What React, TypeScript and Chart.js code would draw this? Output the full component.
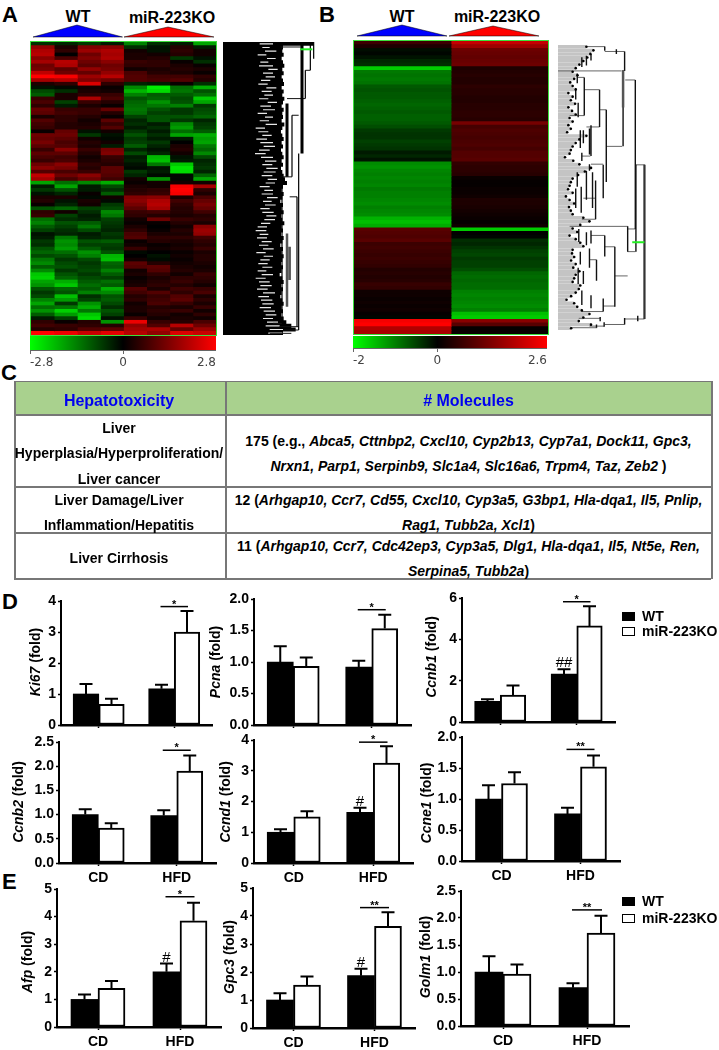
import React, { useEffect, useRef } from "react";
import { Chart, registerables } from "chart.js";
Chart.register(...registerables);

const FONT = "'Liberation Sans', Arial, sans-serif";

// ---------- Heatmap A (rows × 8 samples: 4 WT, 4 miR-223KO) ----------
const heatARows: number[][] = [
[-.5,-.4,-.6,-.3,-1.4,-.5,-.3,-1.8],[1.6,.3,1.4,1.5,-.5,-.2,.4,-.3],[1.9,.5,1.7,1.9,.2,-.2,.5,.2],[2.0,.0,1.2,1.8,.3,.2,.4,.2],
[1.5,.8,1.4,1.9,.3,.4,-.6,-.2],[1.8,2.0,1.2,1.5,.6,.5,.1,-.5],[1.2,1.9,1.0,1.2,.5,.5,.3,.1],[1.3,1.0,1.6,1.3,.2,.3,.4,.3],
[2.1,1.2,1.1,1.6,.8,.4,.3,.1],[2.8,2.7,1.7,2.0,.9,.7,.7,.5],[1.8,2.0,1.4,1.2,.9,.8,.9,.4],[.3,.5,2.4,.5,-.4,-.3,.1,-.5],
[-.2,-.1,.2,.1,-1.5,-2.6,-1.2,-1.9],[-.8,-.5,.3,.2,-2,-2.4,-1.3,-.9],[-1,.3,.5,.6,-1.4,-1,-1,-1.2],[.6,.3,1.9,.8,-.9,-1.1,-.8,-2.2],
[.8,-.7,.6,.4,-1.1,-1.6,-.9,-1.8],[.5,-.3,.3,.1,-1.2,-1.3,-1.4,-.6],[1.1,.6,.6,1.1,-1.3,-.9,-.6,-.8],[1.0,.7,.6,.4,-1.2,-.7,-.6,-.9],
[.3,.5,.4,.1,-.7,-.9,-.9,-1.1],[.9,.5,.2,1.0,-.4,-.9,-.6,-.4],[.7,.4,.3,.6,-.5,-.3,-1.5,-.6],[.6,.4,.4,.9,-.3,-.5,-1.7,-.7],
[.1,1.1,-.2,.2,-.6,-.3,-1.2,-1.0],[1.2,1.2,-.6,-.2,-.9,-.5,-1.8,-1.9],[1.1,1.0,.2,-.1,-.6,-.3,-.3,-1.7],[1.3,.8,.4,.2,-.7,-.6,.0,-1.8],
[1.0,.9,.3,-.3,-1.0,-.4,.3,-1.3],[.6,1.5,.6,1.3,-.4,-.2,.4,-1.1],[1.0,1.0,.4,1.4,-.8,-.4,.2,-1.5],[.8,.7,.2,.6,-.3,-2.0,-.2,-.8],
[.6,.8,.3,.5,-.4,-2.1,-.3,-.4],[1.2,1.5,.5,.4,-.2,-1.3,-2.2,-.5],[1.5,1.3,.4,1.0,-.1,-.2,-2.5,-.6],[.9,.8,.6,1.0,-.6,-.3,-2.4,-.4],
[2.1,1.2,1.5,.9,-.4,-.1,-.1,-1.1],[1.8,.8,1.2,.7,.2,-1.6,-.1,-1.8],[-1.8,-1.2,-1.5,-1.9,.1,.2,.2,.2],[-.3,-1.8,-.3,-.8,.3,.2,2.7,1.8],
[-.6,-.9,-.3,-.5,.4,.5,2.8,.5],[-.2,-.4,.1,-1.0,.5,.6,2.7,.3],[.3,.3,-.1,.2,1.4,1.5,.3,.8],[.4,-.2,.3,-.1,1.5,1.9,.7,1.1],
[.1,-.4,.2,-.6,1.3,2.0,.5,1.3],[-.9,-1.1,-.7,-.8,1.0,1.8,.4,1.1],[.5,.2,-.5,-1.5,.6,.7,.4,.7],[.6,-.7,-.3,-1.3,.5,.4,.3,.4],
[-1.2,-.5,-.4,-.7,.2,1.2,.6,.5],[-1.4,-.9,-1,-.6,.1,.1,.4,.3],[-1.0,-.7,-1.3,-.5,.3,.0,.2,1.5],[-.7,-.5,-.8,-.4,.5,.1,.4,1.7],
[-.2,-.4,-.3,-.6,.8,.3,.3,1.6],[-.3,-1.3,-.4,-.5,.9,.5,.5,.7],[-.6,-1.6,-.9,-1,.1,.4,.3,.5],[-.5,-1.5,-.7,-.7,.2,.1,.2,.4],
[-.9,-1.7,-1.0,-.6,.6,.2,.3,.6],[-1.1,-1.2,-1.6,-.9,-.1,.0,.1,.3],[-.8,-.9,-1.4,-2,.0,-.2,.2,.4],[-1.3,-.6,-.8,-2.1,.2,-.1,.1,.4],
[-1.5,-.8,-.6,-1.1,1.0,.4,.2,.3],[-1.0,-.9,-.7,-1.0,.9,1.0,.3,.2],[-1.5,-.6,-.8,-1.4,.2,.9,.4,.3],[-2.2,-.9,-.6,-1.0,.3,.5,.2,.6],
[-2.3,-1.1,-.8,-.7,.1,.3,.5,.5],[-1.8,-1.9,-1.0,-1.2,.2,.4,.6,.4],[-1.6,-2.2,-1.2,-1.0,.3,.5,.4,.2],[-.9,-1.1,-1.0,-1.9,.9,.3,.7,.6],
[-.6,-.9,-1.4,-1.5,.7,.9,.5,.8],[-.8,-2.1,-.5,-.9,.4,.6,.9,.3],[-1.4,-1.7,-.7,-1.0,.5,.7,1.0,.5],[-1.8,-.6,-1.6,-.8,.2,.8,.6,.3],
[-1.2,-1.3,-1.9,-.5,.3,.4,.3,.6],[-1.6,-2.3,-1.3,-.9,.3,.5,.6,.2],[-1.0,-1.7,-2.2,-.7,.1,.4,.2,.5],[-.3,-.7,-2.4,-.2,.6,.2,.3,.2],
[.5,.1,.4,-1.6,2.6,.6,.4,.8],[.7,.6,.5,.4,1.6,.9,2.0,1.2],[.4,.5,.9,1.0,1.8,1.9,1.1,1.7],[2.8,2.6,2.2,2.5,2.0,1.6,2.4,2.2],
];

// ---------- Heatmap B (rows × 2 groups) ----------
const heatBWT = [.6,.3,-.1,-.05,-.15,-.3,-.35,-1.6,-.95,-.9,-.95,-.9,-.7,-.65,-.7,-.7,-.75,-.8,-.75,-.7,-.75,-.75,-.7,-.6,-.45,-.4,-.4,-.5,-.45,-.4,-.2,-.3,-.15,-1.1,-1.15,-1.05,-1.0,-1.05,-1.0,-1.05,-.95,-1.0,-1.0,-1.05,-1.1,-1.0,-1.05,-1.1,-1.4,-1.5,-1.35,.9,.85,.8,.9,.6,.65,.6,.55,.6,.55,.5,.35,.4,.35,.4,.55,.5,.15,.15,.1,.15,.1,.15,.05,-.05,2.5,2.6,1.8,1.7];
const heatBKO = [2.0,1.6,1.1,1.05,1.0,1.05,1.1,.3,.35,.4,.35,.35,.45,.4,.4,.35,.35,.4,.4,.45,.45,.4,1.2,.7,.8,.75,.7,.75,.8,.7,.85,.85,.9,.5,.45,.45,.4,.1,.05,.05,.1,.1,.15,.3,.3,.25,.2,.15,.1,.05,.15,-1.6,.02,-.05,-.35,-.3,-.4,-.5,-.55,-.45,-.5,-.5,-.6,-.8,-.85,-.8,-.85,-.85,-1.0,-1.05,-1.0,-1.05,-1.1,-1.0,-1.5,-1.6,1.4,.9,.05,.1];

// ---------- Dendrogram A (distance units, row units) ----------
const dendAEnds = [272,180,178,182,176,180,184,178,182,176,180,183,176,182,178,184,180,176,182,178,180,176,184,178,172,178,182,176,180,174,178,182,176,180,174,178,182,186,192,180,176,182,178,172,180,176,182,174,178,184,176,180,174,182,178,172,180,176,182,178,174,180,176,170,178,182,174,180,176,172,178,182,176,180,174,182,190,205,218,180];
const dendASpikeStart = [110,118,126,104,132,112,108,136,120,128,114,106,130,116,124,108,134,112,120,104,126,110,128,98,106,118,100,112,122,108,96,114,126,118,130,122,116,134,128,110,124,116,132,120,126,112,118,130,124,114,104,98,110,102,116,108,120,100,122,112,106,118,104,116,98,108,112,102,120,106,114,118,110,122,128,120,132,128,140,136];
const dendASpikeEnd = [150,140,160,130,158,136,150,164,150,156,142,134,160,146,150,136,162,144,156,132,150,138,162,126,136,146,132,150,156,140,128,150,160,148,164,158,148,162,156,140,150,150,164,146,158,140,152,160,156,142,132,130,136,132,146,136,152,128,150,140,134,148,130,150,128,140,146,134,156,138,148,152,144,156,160,150,165,170,180,178];
const dendAThick = [[237,0,335],[192,185,405]];
const dendAThin = [[272,0,50],[262,0,85],[247,85,170],[227,335,865],[207,220,405],[222,465,855],[177,405,845],[172,15,405]];
const dendAGrey = [[192,575,795],[200,615,715]];
const dendAHoriz = [[15,172,237],[85,247,262],[170,192,247],[220,207,227],[405,172,207],[465,200,222],[855,170,227],[865,180,227],[845,150,177],[875,140,205]];
const dendAGreen = [[22,232,268]];

// ---------- Dendrogram B ----------
const dendBEnds = [735,758,748,738,725,712,700,690,706,695,682,690,700,676,690,684,698,676,688,700,680,690,676,684,672,735,712,700,690,684,680,665,692,712,750,730,708,690,684,680,675,690,668,680,695,678,684,690,725,745,715,690,705,680,700,715,725,690,688,695,685,700,692,712,700,695,690,715,710,700,685,670,695,705,720,745,725,710,750,685];
const dendBVert = [[795,127,140],[833,135,150],[860,142,202],[855,200,435],[895,230,690],[800,322,545],[778,260,375],[728,222,340],[750,370,465],[790,492,595],[765,540,660],[755,515,625],[870,682,760],[828,745,930],[795,710,775],[750,695,735],[735,700,740],[768,785,850],[745,750,810],[790,905,945],[750,895,935],[925,492,968],[897,492,760],[903,958,975],[860,965,985],[780,962,975],[793,978,992],[768,985,995],[705,210,240],[700,255,290],[708,300,345],[715,385,440],[725,385,425],[745,380,460],[720,455,480],[745,490,510],[705,515,560],[700,565,625],[718,560,640],[735,510,600],[710,690,730],[715,760,800],[708,810,860],[725,820,860],[720,880,925],[735,155,185],[720,160,190],[750,150,170]];
const dendBHoriz = [[127,735,795],[142,795,860],[202,642,850],[230,862,895],[690,870,895],[435,800,852],[322,778,800],[260,728,778],[222,705,728],[375,735,778],[465,720,748],[490,750,790],[595,725,765],[682,680,870],[760,870,895],[835,828,870],[745,795,828],[710,750,795],[785,745,768],[928,790,828],[492,897,925],[968,860,925],[985,795,860],[966,710,780],[990,745,793],[995,685,770],[340,680,728],[660,720,765],[945,720,790]];
const dendBGreen = [[731,885,925]];

// ---------- Bar data: order CD-WT, CD-KO, HFD-WT, HFD-KO ----------
const dietLabels = ["CD", "HFD"];
const ki67Means = [1, 0.67, 1.17, 3.0];
const ki67Tops = [1.32, 0.85, 1.3, 3.68];
const pcnaMeans = [1, 0.93, 0.92, 1.53];
const pcnaTops = [1.25, 1.07, 1.02, 1.75];
const ccnb1Means = [1, 1.3, 2.32, 4.65];
const ccnb1Tops = [1.1, 1.77, 2.55, 5.6];
const ccnb2Means = [1, 0.72, 0.98, 1.9];
const ccnb2Tops = [1.11, 0.82, 1.09, 2.22];
const ccnd1Means = [1, 1.5, 1.65, 3.25];
const ccnd1Tops = [1.1, 1.68, 1.8, 3.8];
const ccne1Means = [1, 1.25, 0.76, 1.52];
const ccne1Tops = [1.22, 1.43, 0.86, 1.7];
const afpMeans = [1, 1.4, 2, 3.85];
const afpTops = [1.18, 1.67, 2.3, 4.5];
const gpc3Means = [1, 1.53, 1.87, 3.63];
const gpc3Tops = [1.24, 1.84, 2.12, 4.13];
const golm1Means = [1, 0.96, 0.71, 1.72];
const golm1Tops = [1.29, 1.14, 0.79, 2.04];

const panels = [
  { gene: "Ki67", means: ki67Means, tops: ki67Tops, max: 4, step: 1, dec: 0, sig: 3.82, stars: "*", hash: "", x0: 61, x1: 212, y0: 601, y1: 725, bw: 25.5, tx: 36, ty: 662, labels: false },
  { gene: "Pcna", means: pcnaMeans, tops: pcnaTops, max: 2, step: 0.5, dec: 1, sig: 1.83, stars: "*", hash: "", x0: 254, x1: 411, y0: 599, y1: 725, bw: 26, tx: 216, ty: 662, labels: false },
  { gene: "Ccnb1", means: ccnb1Means, tops: ccnb1Tops, max: 6, step: 2, dec: 0, sig: 5.82, stars: "*", hash: "##", x0: 462, x1: 615, y0: 598, y1: 722, bw: 25.5, tx: 432, ty: 657, labels: false },
  { gene: "Ccnb2", means: ccnb2Means, tops: ccnb2Tops, max: 2.5, step: 0.5, dec: 1, sig: 2.33, stars: "*", hash: "", x0: 59, x1: 216, y0: 742, y1: 863, bw: 26, tx: 19, ty: 802, labels: true },
  { gene: "Ccnd1", means: ccnd1Means, tops: ccnd1Tops, max: 4, step: 1, dec: 0, sig: 3.93, stars: "*", hash: "#", x0: 254, x1: 413, y0: 740, y1: 863, bw: 26.5, tx: 226, ty: 802, labels: true },
  { gene: "Ccne1", means: ccne1Means, tops: ccne1Tops, max: 2, step: 0.5, dec: 1, sig: 1.8, stars: "**", hash: "", x0: 462, x1: 620, y0: 737, y1: 861, bw: 26, tx: 427, ty: 803, labels: true },
  { gene: "Afp", means: afpMeans, tops: afpTops, max: 5, step: 1, dec: 0, sig: 4.72, stars: "*", hash: "#", x0: 57, x1: 221, y0: 889, y1: 1027, bw: 27, tx: 28, ty: 962, labels: true },
  { gene: "Gpc3", means: gpc3Means, tops: gpc3Tops, max: 5, step: 1, dec: 0, sig: 4.3, stars: "**", hash: "#", x0: 253, x1: 415, y0: 888, y1: 1028, bw: 27, tx: 230, ty: 957, labels: true },
  { gene: "Golm1", means: golm1Means, tops: golm1Tops, max: 2.5, step: 0.5, dec: 1, sig: 2.15, stars: "**", hash: "", x0: 461, x1: 629, y0: 891, y1: 1026, bw: 28, tx: 426, ty: 957, labels: true },
];

function heatColor(v: number, lo: number, hi: number) {
  if (v >= 0) return `rgb(${Math.round(255 * Math.min(1, v / hi))},0,0)`;
  return `rgb(0,${Math.round(255 * Math.min(1, v / lo))},0)`;
}

function zeroPad(scale: any) {
  scale.paddingLeft = 0; scale.paddingRight = 0; scale.paddingTop = 0; scale.paddingBottom = 0;
}

function ChartCanvas({ left, top, width, height, make, style }: any) {
  const ref = useRef<HTMLCanvasElement | null>(null);
  useEffect(() => {
    const chart = new Chart(ref.current as HTMLCanvasElement, make());
    return () => chart.destroy();
  }, []);
  return <canvas ref={ref} width={width} height={height} style={{ position: "absolute", left, top, width, height, ...style }} />;
}

function heatConfig(columns: number[][], lo: number, hi: number): any {
  const rowLabels = columns[0].map((_, i) => String(i + 1));
  return {
    type: "bar",
    data: {
      labels: rowLabels,
      datasets: columns.map((col) => ({
        data: col.map(() => 1),
        backgroundColor: col.map((v) => heatColor(v, lo, hi)),
        borderWidth: 0,
        barPercentage: 1,
        categoryPercentage: 1,
        inflateAmount: 0.4,
      })),
    },
    options: {
      indexAxis: "y", responsive: false, animation: false, devicePixelRatio: 1,
      layout: { padding: 0 },
      plugins: { legend: { display: false }, tooltip: { enabled: false } },
      scales: {
        x: { display: false, stacked: true, min: 0, max: columns.length },
        y: { display: false, stacked: true },
      },
    },
  };
}

function colorbarConfig(lo: number, hi: number, axisH: number): any {
  return {
    type: "bar",
    data: {
      labels: ["scale"],
      datasets: [{
        data: [[lo, hi]],
        barPercentage: 1, categoryPercentage: 1, borderWidth: 0,
        backgroundColor: (ctx: any) => {
          const a = ctx.chart.chartArea;
          if (!a) return "#000";
          const g = ctx.chart.ctx.createLinearGradient(a.left, 0, a.right, 0);
          g.addColorStop(0, "#00ff00");
          g.addColorStop(-lo / (hi - lo), "#000000");
          g.addColorStop(1, "#ff0000");
          return g;
        },
      }],
    },
    options: {
      indexAxis: "y", responsive: false, animation: false, devicePixelRatio: 1,
      layout: { padding: 0 },
      plugins: { legend: { display: false }, tooltip: { enabled: false } },
      scales: {
        y: { display: false },
        x: {
          type: "linear", min: lo, max: hi,
          afterBuildTicks: (s: any) => { s.ticks = [{ value: lo }, { value: 0 }, { value: hi }]; },
          afterFit: (s: any) => { s.height = axisH; zeroPad(s); },
          border: { display: true, color: "#666", width: 1 },
          grid: { drawOnChartArea: false, tickLength: 4, color: "#666" },
          ticks: { align: "inner", maxRotation: 0, padding: 2, color: "#444", font: { family: "'DejaVu Sans'", size: 12 }, callback: (v: any) => String(v) },
        },
      },
    },
  };
}

function segs(list: number[][], vertical: boolean) {
  const pts: any[] = [];
  list.forEach(([a, b, c]) => {
    if (vertical) pts.push({ x: a, y: b }, { x: a, y: c });
    else pts.push({ x: b, y: a }, { x: c, y: a });
    pts.push({ x: NaN, y: NaN });
  });
  return pts;
}

function lineSet(data: any[], color: string, width: number, extra: any = {}) {
  return { type: "scatter", data, showLine: true, borderColor: color, borderWidth: width, pointRadius: 0, spanGaps: false, borderCapStyle: "butt", ...extra };
}

function dendroOptions(xmin: number, xmax: number, ymin: number, ymax: number): any {
  return {
    responsive: false, animation: false, devicePixelRatio: 1,
    layout: { padding: 0 },
    plugins: { legend: { display: false }, tooltip: { enabled: false } },
    scales: {
      x: { type: "linear", display: false, min: xmin, max: xmax },
      y: { type: "linear", display: false, min: ymin, max: ymax, reverse: true },
    },
  };
}

function dendroAConfig(): any {
  const rowY = (i: number) => (i + 0.5) * 11;
  const leaves = segs(dendAEnds.map((e, i) => [rowY(i), 0, e]), false);
  const spikes = segs(dendASpikeStart.map((s, i) => [rowY(i), s, dendASpikeEnd[i]]), false);
  return {
    type: "scatter",
    data: {
      // the first dataset is painted last
      datasets: [
        lineSet(segs(dendAGreen, false), "#22ee22", 2),
        lineSet(segs(dendAGrey, true), "#555", 2.5),
        lineSet(segs(dendAThick, true), "#000", 3),
        lineSet(segs(dendAThin, true), "#000", 1.2),
        lineSet(segs(dendAHoriz, false), "#111", 1),
        lineSet(spikes, "#e8e8e8", 1.2),
        lineSet(leaves, "#000", 4),
      ],
    },
    options: dendroOptions(0, 282, 0, 880),
  };
}

function dendroBConfig(): any {
  const rowY = (i: number) => 122 + (i + 0.5) * 11;
  const leaves = segs(dendBEnds.map((e, i) => [rowY(i), 642, e]), false);
  const dots = dendBEnds.map((e, i) => ({ x: e, y: rowY(i) }));
  return {
    type: "scatter",
    data: {
      // the first dataset is painted last
      datasets: [
        { type: "scatter", data: dots, showLine: false, pointRadius: 1.3, backgroundColor: "#000", borderWidth: 0 },
        lineSet(segs(dendBGreen, false), "#22ee22", 2),
        lineSet(segs([[925, 492, 968]], true), "#333", 2),
        lineSet(segs([[855, 200, 315]], true), "#555", 2.5),
        lineSet(segs(dendBVert, true), "#111", 1.4),
        lineSet(segs(dendBHoriz, false), "#666", 1),
        lineSet(leaves, "#c4c4c4", 3.4),
      ],
    },
    options: dendroOptions(642, 930, 122, 1002),
  };
}

function barConfig(p: any, left: number, top: number, right: number, bottom: number): any {
  const annot = {
    id: "annot",
    afterDatasetsDraw(chart: any) {
      const c = chart.ctx;
      const y = chart.scales.y;
      const m0 = chart.getDatasetMeta(0).data;
      const m1 = chart.getDatasetMeta(1).data;
      const xs = [m0[0].x, m1[0].x, m0[1].x, m1[1].x];
      c.save();
      c.strokeStyle = "#000";
      c.fillStyle = "#000";
      c.lineWidth = 2;
      xs.forEach((x: number, i: number) => {
        const a = y.getPixelForValue(p.means[i]);
        const b = y.getPixelForValue(p.tops[i]);
        c.beginPath();
        c.moveTo(x, a); c.lineTo(x, b);
        c.moveTo(x - 6.5, b); c.lineTo(x + 6.5, b);
        c.stroke();
      });
      const sy = y.getPixelForValue(p.sig);
      c.lineWidth = 1.5;
      c.beginPath(); c.moveTo(xs[2] - 1, sy); c.lineTo(xs[3] + 1, sy); c.stroke();
      c.textAlign = "center";
      c.textBaseline = "alphabetic";
      c.font = `bold 11px ${FONT}`;
      c.fillText(p.stars, (xs[2] + xs[3]) / 2, sy + 1);
      if (p.hash) {
        c.font = `15px ${FONT}`;
        c.fillText(p.hash, xs[2], y.getPixelForValue(p.tops[2]) - 2);
      }
      // y-axis title: gene in italics, unit upright
      c.translate(p.tx - left, p.ty - top);
      c.rotate(-Math.PI / 2);
      c.textBaseline = "middle";
      c.textAlign = "left";
      const it = `italic bold 14px ${FONT}`;
      const bd = `bold 14px ${FONT}`;
      c.font = it;
      const w1 = c.measureText(p.gene).width;
      c.font = bd;
      const rest = " (fold)";
      const w2 = c.measureText(rest).width;
      const sx = -(w1 + w2) / 2;
      c.font = it;
      c.fillText(p.gene, sx, 0);
      c.font = bd;
      c.fillText(rest, sx + w1, 0);
      c.restore();
    },
  };
  return {
    type: "bar",
    data: {
      labels: dietLabels,
      datasets: [
        { label: "WT", data: [p.means[0], p.means[2]], backgroundColor: "#000", borderColor: "#000", borderWidth: 0, barThickness: p.bw },
        { label: "miR-223KO", data: [p.means[1], p.means[3]], backgroundColor: "#fff", borderColor: "#000", borderWidth: 2, borderSkipped: false, barThickness: p.bw },
      ],
    },
    plugins: [annot],
    options: {
      responsive: false, animation: false, devicePixelRatio: 1,
      layout: { padding: { top: p.y0 - top, right: right - p.x1, left: 0, bottom: 0 } },
      plugins: { legend: { display: false }, tooltip: { enabled: false } },
      scales: {
        x: {
          afterFit: (s: any) => { s.height = bottom - p.y1; zeroPad(s); },
          border: { color: "#000", width: 2.5 },
          grid: { drawOnChartArea: false, offset: false, tickLength: 3, color: "#000", tickWidth: 1.5 },
          ticks: {
            maxRotation: 0, padding: 4, color: "#000",
            font: { family: FONT, size: 14, weight: "bold" },
            callback: function (this: any, v: any) { return p.labels ? this.getLabelForValue(v) : ""; },
          },
        },
        y: {
          min: 0, max: p.max,
          afterFit: (s: any) => { s.width = p.x0 - left; zeroPad(s); },
          border: { color: "#000", width: 2 },
          grid: { drawOnChartArea: false, tickLength: 3, color: "#000", tickWidth: 1.5 },
          ticks: {
            stepSize: p.step, padding: 2, color: "#000",
            font: { family: FONT, size: 14, weight: "bold" },
            callback: (v: any) => Number(v).toFixed(p.dec),
          },
        },
      },
    },
  };
}

function BarPanel({ p }: any) {
  const left = Math.max(0, p.x0 - 58);
  const top = p.y0 - 12;
  const right = p.x1 + 4;
  const bottom = p.y1 + 24;
  return (
    <ChartCanvas left={left} top={top} width={right - left} height={bottom - top}
      make={() => barConfig(p, left, top, right, bottom)} />
  );
}

function Abs({ x, y, children, style }: any) {
  return <div style={{ position: "absolute", left: x, top: y, whiteSpace: "nowrap", fontFamily: FONT, fontWeight: "bold", color: "#000", lineHeight: 1, ...style }}>{children}</div>;
}

function Centered({ cx, cy, size, color, children }: any) {
  return <div style={{ position: "absolute", left: cx, top: cy, transform: "translate(-50%,-50%)", whiteSpace: "nowrap", fontFamily: FONT, fontWeight: "bold", fontSize: size, lineHeight: 1, color: color || "#000" }}>{children}</div>;
}

function Legend({ x, y1, y2 }: any) {
  const sw = (cy: number, bg: string) => <div style={{ position: "absolute", left: x, top: cy - 4.5, width: 13, height: 9, background: bg, border: "1px solid #000", boxSizing: "border-box" }} />;
  return (
    <>
      {sw(y1, "#000")}{sw(y2, "#fff")}
      <div style={{ position: "absolute", left: x + 20, top: y1 - 7, fontFamily: FONT, fontWeight: "bold", fontSize: 14, lineHeight: "14px" }}>WT</div>
      <div style={{ position: "absolute", left: x + 20, top: y2 - 7, fontFamily: FONT, fontWeight: "bold", fontSize: 14, lineHeight: "14px", whiteSpace: "nowrap" }}>miR-223KO</div>
    </>
  );
}

function EffectTable() {
  const L = 14, R = 711, M = 225;
  const hl = (y: number, h = 1.5) => <div style={{ position: "absolute", left: L, top: y, width: R - L, height: h, background: "#777" }} />;
  const vl = (x: number) => <div style={{ position: "absolute", left: x, top: 381, width: 1.5, height: 198, background: "#777" }} />;
  const c1 = 119, c2 = 468.5;
  return (
    <>
      <div style={{ position: "absolute", left: L, top: 381, width: R - L, height: 33, background: "#A9D18E" }} />
      {hl(380.5)}{hl(414)}{hl(485.5, 2)}{hl(532, 2)}{hl(578)}
      {vl(L)}{vl(M)}{vl(R)}
      <Centered cx={c1} cy={400.5} size={16} color="#0000f0">Hepatotoxicity</Centered>
      <Centered cx={c2} cy={400.5} size={16} color="#0000f0"># Molecules</Centered>
      <Centered cx={c1} cy={427.5} size={14}>Liver</Centered>
      <Centered cx={c1} cy={453} size={14}>Hyperplasia/Hyperproliferation/</Centered>
      <Centered cx={c1} cy={478.5} size={14}>Liver cancer</Centered>
      <Centered cx={c1} cy={499.5} size={14}>Liver Damage/Liver</Centered>
      <Centered cx={c1} cy={524.5} size={14}>Inflammation/Hepatitis</Centered>
      <Centered cx={c1} cy={558} size={14}>Liver Cirrhosis</Centered>
      <Centered cx={c2} cy={441} size={14}>175 (e.g., <i>Abca5, Cttnbp2, Cxcl10, Cyp2b13, Cyp7a1, Dock11, Gpc3,</i></Centered>
      <Centered cx={c2} cy={466} size={14}><i>Nrxn1, Parp1, Serpinb9, Slc1a4, Slc16a6, Trpm4, Taz, Zeb2</i> )</Centered>
      <Centered cx={c2} cy={499.5} size={14}>12 (<i>Arhgap10, Ccr7, Cd55, Cxcl10, Cyp3a5, G3bp1, Hla-dqa1, Il5, Pnlip,</i></Centered>
      <Centered cx={c2} cy={524.5} size={14}><i>Rag1, Tubb2a, Xcl1</i>)</Centered>
      <Centered cx={c2} cy={545.5} size={14}>11 (<i>Arhgap10, Ccr7, Cdc42ep3, Cyp3a5, Dlg1, Hla-dqa1, Il5, Nt5e, Ren,</i></Centered>
      <Centered cx={c2} cy={571} size={14}><i>Serpina5, Tubb2a</i>)</Centered>
    </>
  );
}

export default function App() {
  const columnsA = heatARows[0].map((_, c) => heatARows.map((r) => r[c]));
  const soft = { filter: "blur(0.6px)" };
  return (
    <div style={{ position: "absolute", left: 0, top: 0, width: 719, height: 1050, background: "#fff", overflow: "hidden" }}>
      <Abs x={2} y={4} style={{ fontSize: 22 }}>A</Abs>
      <Abs x={319} y={4} style={{ fontSize: 22 }}>B</Abs>
      <Abs x={1} y={362} style={{ fontSize: 22 }}>C</Abs>
      <Abs x={2} y={591} style={{ fontSize: 22 }}>D</Abs>
      <Abs x={2} y={871} style={{ fontSize: 22 }}>E</Abs>

      <Centered cx={78} cy={17} size={16}>WT</Centered>
      <Centered cx={172} cy={18} size={16}>miR-223KO</Centered>
      <Centered cx={402} cy={17} size={16}>WT</Centered>
      <Centered cx={497} cy={17} size={16}>miR-223KO</Centered>

      <svg width={719} height={45} style={{ position: "absolute", left: 0, top: 0 }}>
        <polygon points="33,37 77,25 122.5,37" fill="#0000ff" stroke="#000" strokeWidth={0.5} />
        <polygon points="124,37 168,27 214,37" fill="#ff0000" stroke="#000" strokeWidth={0.5} />
        <polygon points="357,36 402,25 447,36" fill="#0000ff" stroke="#000" strokeWidth={0.5} />
        <polygon points="449,36 493,26 539,36" fill="#ff0000" stroke="#000" strokeWidth={0.5} />
      </svg>

      <ChartCanvas left={31} top={42} width={185} height={293} make={() => heatConfig(columnsA, -2.8, 2.8)} style={{ outline: "1.5px solid #3be03b", ...soft }} />
      <ChartCanvas left={30} top={336} width={186} height={32} make={() => colorbarConfig(-2.8, 2.8, 18)} />
      <ChartCanvas left={223} top={42} width={94} height={293} make={dendroAConfig} style={soft} />

      <ChartCanvas left={354} top={41} width={194} height={293} make={() => heatConfig([heatBWT, heatBKO], -2, 2.6)} style={{ outline: "1.5px solid #3be03b", ...soft }} />
      <ChartCanvas left={353} top={336} width={194} height={29} make={() => colorbarConfig(-2, 2.6, 17)} />
      <ChartCanvas left={554} top={41} width={96} height={293} make={dendroBConfig} style={soft} />

      <EffectTable />

      {panels.map((p) => <BarPanel key={p.gene} p={p} />)}

      <Legend x={622} y1={616} y2={631} />
      <Legend x={622} y1={901} y2={918} />
    </div>
  );
}
